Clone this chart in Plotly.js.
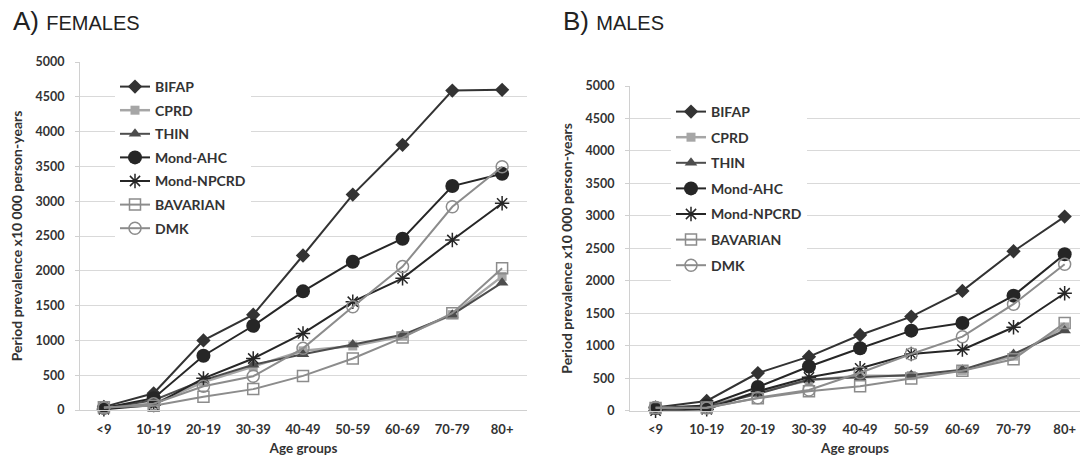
<!DOCTYPE html>
<html>
<head>
<meta charset="utf-8">
<script src="https://cdn.plot.ly/plotly-3.0.1.min.js"></script>
<style>html,body{margin:0;padding:0;background:#fff;}#chart{width:1080px;height:456px;}</style>
</head>
<body>
<div id="chart"></div>
<script>
const ageGroups = ["<9", "10-19", "20-19", "30-39", "40-49", "50-59", "60-69", "70-79", "80+"];
const seriesNames = ["BIFAP", "CPRD", "THIN", "Mond-AHC", "Mond-NPCRD", "BAVARIAN", "DMK"];

// A) Females
const femBIFAP = [45, 240, 1000, 1370, 2220, 3095, 3810, 4590, 4600];
const femCPRD = [30, 90, 400, 620, 850, 920, 1060, 1370, 1920];
const femTHIN = [25, 140, 430, 650, 800, 940, 1080, 1370, 1830];
const femMondAHC = [30, 170, 780, 1210, 1705, 2130, 2460, 3218, 3395];
const femMondNPCRD = [10, 70, 455, 740, 1100, 1556, 1892, 2443, 2970];
const femBAVARIAN = [40, 60, 190, 300, 490, 740, 1040, 1390, 2036];
const femDMK = [30, 90, 340, 485, 886, 1484, 2060, 2920, 3496];

// B) Males
const maleBIFAP = [50, 150, 580, 832, 1166, 1449, 1845, 2455, 2989];
const maleCPRD = [40, 70, 280, 470, 540, 540, 620, 840, 1290];
const maleTHIN = [20, 60, 260, 480, 514, 550, 630, 874, 1235];
const maleMondAHC = [40, 80, 365, 680, 961, 1233, 1350, 1772, 2410];
const maleMondNPCRD = [0, 20, 300, 514, 653, 874, 940, 1285, 1809];
const maleBAVARIAN = [40, 50, 190, 300, 375, 495, 615, 792, 1350];
const maleDMK = [50, 40, 200, 320, 585, 874, 1140, 1640, 2256];

const yTicks = [0, 500, 1000, 1500, 2000, 2500, 3000, 3500, 4000, 4500, 5000];

const styles = [
  {line: {color: "#333333", width: 2}, marker: {symbol: "diamond", size: 11, color: "#333333"}},
  {line: {color: "#a6a6a6", width: 2.5}, marker: {symbol: "square", size: 9, color: "#a6a6a6"}},
  {line: {color: "#4d4d4d", width: 2}, marker: {symbol: "triangle-up", size: 11, color: "#4d4d4d"}},
  {line: {color: "#262626", width: 2}, marker: {symbol: "circle", size: 14, color: "#262626"}},
  {line: {color: "#262626", width: 2}, marker: {symbol: "asterisk-open", size: 12, color: "#262626", line: {width: 1.5, color: "#262626"}}},
  {line: {color: "#8c8c8c", width: 2}, marker: {symbol: "square-open", size: 11, color: "#8c8c8c", line: {width: 1.5, color: "#8c8c8c"}}},
  {line: {color: "#8c8c8c", width: 2}, marker: {symbol: "circle-open", size: 12, color: "#8c8c8c", line: {width: 1.5, color: "#8c8c8c"}}}
];

const femData = [femBIFAP, femCPRD, femTHIN, femMondAHC, femMondNPCRD, femBAVARIAN, femDMK];
const maleData = [maleBIFAP, maleCPRD, maleTHIN, maleMondAHC, maleMondNPCRD, maleBAVARIAN, maleDMK];

const traces = [];
femData.forEach((vals, i) => {
  traces.push({
    type: "scatter", mode: "lines+markers", x: ageGroups, y: vals, name: seriesNames[i],
    xaxis: "x", yaxis: "y", legend: "legend", legendgroup: "f" + i,
    line: styles[i].line, marker: styles[i].marker, cliponaxis: false
  });
});
maleData.forEach((vals, i) => {
  traces.push({
    type: "scatter", mode: "lines+markers", x: ageGroups, y: vals, name: seriesNames[i],
    xaxis: "x2", yaxis: "y2", legend: "legend2", legendgroup: "m" + i,
    line: styles[i].line, marker: styles[i].marker, cliponaxis: false
  });
});

const fam = "Lato, 'Open Sans', sans-serif";
const xTickFont = {family: fam, size: 13, color: "#333", weight: "bold"};
const yTickFont = {family: fam, size: 12.5, color: "#333", weight: "bold"};
const xTitleFont = {family: fam, size: 13.5, color: "#333", weight: "bold"};
const yTitleFont = {family: fam, size: 14, color: "#333", weight: "bold"};
const legendFont = {family: fam, size: 14, color: "#333", weight: "bold"};

function xAxis(domain, range) {
  return {
    domain: domain, type: "category", range: range, showgrid: false, zeroline: false,
    showline: true, linecolor: "#d0d0d0", linewidth: 1, ticks: "", tickfont: xTickFont,
    ticklabelstandoff: 7,
    title: {text: "Age groups", font: xTitleFont, standoff: 8}, fixedrange: true
  };
}
function yAxis(domain, anchor) {
  return {
    domain: domain, anchor: anchor, range: [0, 5000], tickvals: yTicks, ticktext: yTicks.map(String),
    showgrid: true, gridcolor: "#d9d9d9", gridwidth: 1, zeroline: false,
    showline: true, linecolor: "#d0d0d0", linewidth: 1, ticks: "outside", ticklen: 4, tickcolor: "#d0d0d0",
    ticklabelstandoff: 8,
    tickfont: yTickFont, title: {text: "Period prevalence x10 000 person-years", font: yTitleFont, standoff: 9},
    fixedrange: true
  };
}

const layout = {
  width: 1080, height: 456,
  margin: {l: 0, r: 0, t: 0, b: 0},
  paper_bgcolor: "#fff", plot_bgcolor: "#fff",
  showlegend: true,
  xaxis: Object.assign(xAxis([80 / 1080, 527 / 1080], [-0.48, 8.5]), {anchor: "y"}),
  yaxis: yAxis([(456 - 410) / 456, (456 - 62) / 456], "x"),
  xaxis2: Object.assign(xAxis([630 / 1080, 1], [-0.5, 8.3]), {anchor: "y2"}),
  yaxis2: yAxis([(456 - 410.7) / 456, (456 - 86) / 456], "x2"),
  legend: {
    x: 115 / 1080, xanchor: "left", y: (456 - 71) / 456, yanchor: "top",
    bgcolor: "#ffffff", borderwidth: 0, tracegroupgap: 2.4, itemwidth: 30,
    font: legendFont
  },
  legend2: {
    x: 671 / 1080, xanchor: "left", y: (456 - 96) / 456, yanchor: "top",
    bgcolor: "#ffffff", borderwidth: 0, tracegroupgap: 4.4, itemwidth: 30,
    font: legendFont
  },
  annotations: [
    {text: "A) <span style='font-size:20px'>FEMALES</span>", xref: "paper", yref: "paper",
     x: 11 / 1080, y: (456 - 38) / 456, xanchor: "left", yanchor: "bottom", showarrow: false,
     font: {family: "'Liberation Sans', Arial, sans-serif", size: 26, color: "#222"}},
    {text: "B) <span style='font-size:20px'>MALES</span>", xref: "paper", yref: "paper",
     x: 561 / 1080, y: (456 - 38) / 456, xanchor: "left", yanchor: "bottom", showarrow: false,
     font: {family: "'Liberation Sans', Arial, sans-serif", size: 26, color: "#222"}}
  ]
};

Plotly.newPlot("chart", traces, layout, {displayModeBar: false, staticPlot: true});
</script>
</body>
</html>
